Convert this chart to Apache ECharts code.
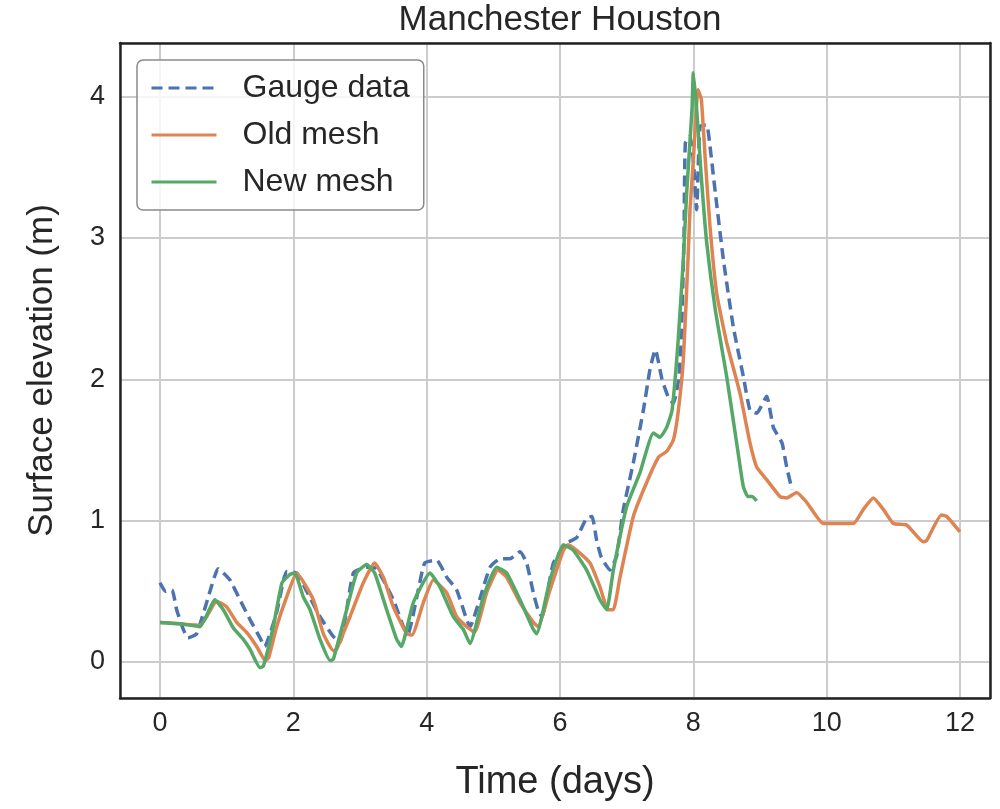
<!DOCTYPE html>
<html>
<head>
<meta charset="utf-8">
<script src="https://cdn.jsdelivr.net/npm/echarts@6/dist/echarts.min.js"></script>
<style>
    html, body {margin: 0; padding: 0; background: #fff;}
    #chart {width: 1000px; height: 809px;}
</style>
</head>
<body>
<div id="chart"></div>
<script>
//图表数据 (时间: 天, 水位: 米)
var gaugeTime  = [0, 0.08, 0.18, 0.25, 0.35, 0.42, 0.55, 0.75, 0.87, 0.95, 1.05, 1.2, 1.35, 1.5, 1.57, 1.75, 1.9, 2.05, 2.2, 2.4, 2.6, 2.7, 2.9, 3.1, 3.25, 3.5, 3.65, 3.72, 3.87, 3.97, 4.15, 4.3, 4.45, 4.6, 4.65, 4.8, 4.95, 5.1, 5.25, 5.4, 5.5, 5.6, 5.67, 5.73, 5.9, 6.1, 6.25, 6.4, 6.48, 6.55, 6.62, 6.75, 6.85, 6.95, 7.1, 7.25, 7.35, 7.43, 7.53, 7.62, 7.7, 7.78, 7.82, 7.86, 7.88, 7.95, 8.0, 8.05, 8.1, 8.2, 8.25, 8.33, 8.45, 8.6, 8.75, 8.85, 8.95, 9.1, 9.2, 9.33, 9.4, 9.48];
var gaugeLevel = [0.56, 0.5, 0.51, 0.37, 0.23, 0.17, 0.2, 0.5, 0.66, 0.63, 0.58, 0.44, 0.3, 0.17, 0.11, 0.35, 0.64, 0.63, 0.5, 0.32, 0.18, 0.14, 0.63, 0.67, 0.66, 0.44, 0.25, 0.2, 0.5, 0.7, 0.72, 0.6, 0.51, 0.3, 0.25, 0.45, 0.67, 0.73, 0.73, 0.78, 0.7, 0.49, 0.37, 0.32, 0.7, 0.84, 0.88, 1.02, 1.03, 0.86, 0.74, 0.65, 0.75, 1.08, 1.41, 1.78, 2.07, 2.21, 2.0, 1.88, 1.83, 2.0, 2.3, 3.0, 3.67, 3.72, 3.55, 3.2, 3.79, 3.8, 3.65, 3.32, 2.85, 2.37, 2.02, 1.78, 1.76, 1.88, 1.66, 1.55, 1.38, 1.22];

var oldTime  = [0, 0.3, 0.6, 0.7, 0.85, 1.0, 1.15, 1.3, 1.45, 1.58, 1.63, 1.75, 1.9, 2.05, 2.3, 2.45, 2.6, 2.65, 2.85, 3.05, 3.22, 3.35, 3.5, 3.7, 3.78, 3.95, 4.1, 4.3, 4.45, 4.6, 4.72, 4.9, 5.07, 5.2, 5.4, 5.6, 5.67, 5.85, 6.05, 6.12, 6.25, 6.45, 6.6, 6.72, 6.8, 6.9, 7.1, 7.3, 7.48, 7.6, 7.7, 7.77, 7.85, 7.92, 7.95, 8.0, 8.07, 8.12, 8.18, 8.25, 8.35, 8.5, 8.7, 8.85, 8.95, 9.1, 9.3, 9.4, 9.55, 9.7, 9.95, 10.4, 10.55, 10.7, 10.85, 11.0, 11.2, 11.45, 11.5, 11.72, 11.8, 12.0];
var oldLevel = [0.28, 0.27, 0.26, 0.32, 0.43, 0.39, 0.28, 0.21, 0.11, 0.01, 0.03, 0.25, 0.46, 0.63, 0.44, 0.2, 0.08, 0.09, 0.32, 0.56, 0.7, 0.6, 0.39, 0.2, 0.19, 0.42, 0.58, 0.49, 0.32, 0.25, 0.21, 0.49, 0.65, 0.6, 0.42, 0.28, 0.25, 0.51, 0.79, 0.83, 0.79, 0.7, 0.53, 0.37, 0.37, 0.6, 1.03, 1.27, 1.45, 1.49, 1.57, 1.76, 2.14, 2.85, 3.2, 3.55, 4.05, 3.98, 3.55, 3.08, 2.61, 2.26, 1.9, 1.55, 1.38, 1.29, 1.17, 1.16, 1.2, 1.13, 0.98, 0.98, 1.08, 1.16, 1.08, 0.98, 0.97, 0.85, 0.86, 1.04, 1.03, 0.92];

var newTime  = [0, 0.3, 0.6, 0.7, 0.82, 0.95, 1.1, 1.25, 1.35, 1.5, 1.55, 1.7, 1.83, 1.95, 2.02, 2.15, 2.25, 2.4, 2.55, 2.6, 2.8, 2.95, 3.1, 3.22, 3.4, 3.55, 3.62, 3.8, 4.05, 4.2, 4.4, 4.55, 4.65, 4.85, 5.05, 5.2, 5.4, 5.6, 5.65, 5.85, 6.05, 6.2, 6.4, 6.6, 6.7, 6.8, 7.0, 7.2, 7.4, 7.5, 7.6, 7.68, 7.77, 7.85, 7.9, 7.98, 8.0, 8.05, 8.12, 8.2, 8.33, 8.5, 8.65, 8.75, 8.82, 8.88, 8.95];
var newLevel = [0.28, 0.27, 0.25, 0.33, 0.44, 0.37, 0.24, 0.16, 0.09, -0.04, -0.03, 0.25, 0.56, 0.62, 0.63, 0.46, 0.37, 0.16, 0.01, 0.02, 0.37, 0.63, 0.69, 0.63, 0.37, 0.16, 0.11, 0.42, 0.63, 0.53, 0.32, 0.23, 0.13, 0.46, 0.67, 0.63, 0.44, 0.23, 0.2, 0.58, 0.83, 0.79, 0.65, 0.44, 0.37, 0.65, 1.1, 1.34, 1.62, 1.59, 1.66, 1.78, 2.26, 2.85, 3.32, 3.91, 4.17, 3.91, 3.43, 2.97, 2.49, 2.02, 1.55, 1.24, 1.17, 1.17, 1.14];

var seriesNames = ['Gauge data', 'Old mesh', 'New mesh'];
var seriesColor = ['#4c72b0', '#dd8452', '#55a868'];

//拼接成 [x, y]
function pairs(t, v) {
    var list = [];
    for (var i = 0; i < t.length; i++) list.push([t[i], v[i]]);
    return list;
}

var textColor = '#262626';
var frameColor = '#222222';
var font = 'Liberation Sans, Arial, sans-serif';
var xRange = [-0.6, 12.45];
var yRange = [-0.255, 4.38];

//边框轴 (只画线)
function frameAxis(range, pos) {
    return {
        type : 'value',
        min : range[0],
        max : range[1],
        position : pos,
        axisLine : {show: true, onZero: false, lineStyle: {color: frameColor, width: 2.5}},
        axisTick : {show: false},
        axisLabel : {show: false},
        splitLine : {show: false}
    };
}

//折线配置
function lineSeries(i, t, v, dash) {
    return {
        name : seriesNames[i],
        type : 'line',
        symbol : 'none',
        smooth : 0.15,
        z : 3 + i,
        color : seriesColor[i],
        lineStyle : {width: 3.5, type: dash || 'solid', color: seriesColor[i]},
        data : pairs(t, v)
    };
}

var chart = echarts.init(document.getElementById('chart'), null, {renderer: 'canvas'});

chart.setOption({
    animation : false,
    backgroundColor : '#ffffff',
    textStyle : {fontFamily: font},
    graphic : [{
        type  : 'text',
        x     : 560,
        y     : 3,
        style : {
            text : 'Manchester Houston',
            fill : textColor,
            font : '35px ' + font,
            textAlign : 'center',
            textVerticalAlign : 'top'
        }
    }],
    grid : {
        left : 120,
        right : 10,
        top : 43,
        bottom : 111,
        show : true,
        borderWidth : 0,
        backgroundColor : '#ffffff'
    },
    legend : {
        orient : 'vertical',
        left : 137,
        top : 60,
        itemWidth : 65,
        itemHeight : 14,
        itemGap : 15,
        padding : [12, 14, 12, 13],
        backgroundColor : 'rgba(255,255,255,0.8)',
        borderColor : '#8a8a8a',
        borderWidth : 1.5,
        borderRadius : 6,
        itemStyle : {opacity: 0},
        lineStyle : {width: 3},
        textStyle : {fontSize: 32, color: textColor, padding: [0, 0, 0, 21], fontFamily: font},
        data : seriesNames
    },
    xAxis : [{
        type : 'value',
        min : xRange[0],
        max : xRange[1],
        splitNumber : 6,
        name : 'Time (days)',
        nameLocation : 'middle',
        nameGap : 66,
        nameTextStyle : {fontSize: 38, color: textColor},
        axisLine : {show: true, onZero: false, lineStyle: {color: frameColor, width: 2.5}},
        axisTick : {show: false},
        axisLabel : {
            fontSize : 27, color: textColor, margin: 12,
            showMinLabel : false, showMaxLabel : false
        },
        splitLine : {lineStyle: {color: '#cccccc', width: 2}}
    }, frameAxis(xRange, 'top')],
    yAxis : [{
        type : 'value',
        min : yRange[0],
        max : yRange[1],
        splitNumber : 5,
        name : 'Surface elevation (m)',
        nameLocation : 'middle',
        nameGap : 60,
        nameTextStyle : {fontSize: 35, color: textColor},
        axisLine : {show: true, onZero: false, lineStyle: {color: frameColor, width: 2.5}},
        axisTick : {show: false},
        axisLabel : {
            fontSize : 27, color: textColor, margin: 15,
            showMinLabel : false, showMaxLabel : false
        },
        splitLine : {lineStyle: {color: '#cccccc', width: 2}}
    }, frameAxis(yRange, 'right')],
    series : [
        lineSeries(0, gaugeTime, gaugeLevel, [11, 6]),
        lineSeries(1, oldTime, oldLevel),
        lineSeries(2, newTime, newLevel)
    ]
});
</script>
</body>
</html>
